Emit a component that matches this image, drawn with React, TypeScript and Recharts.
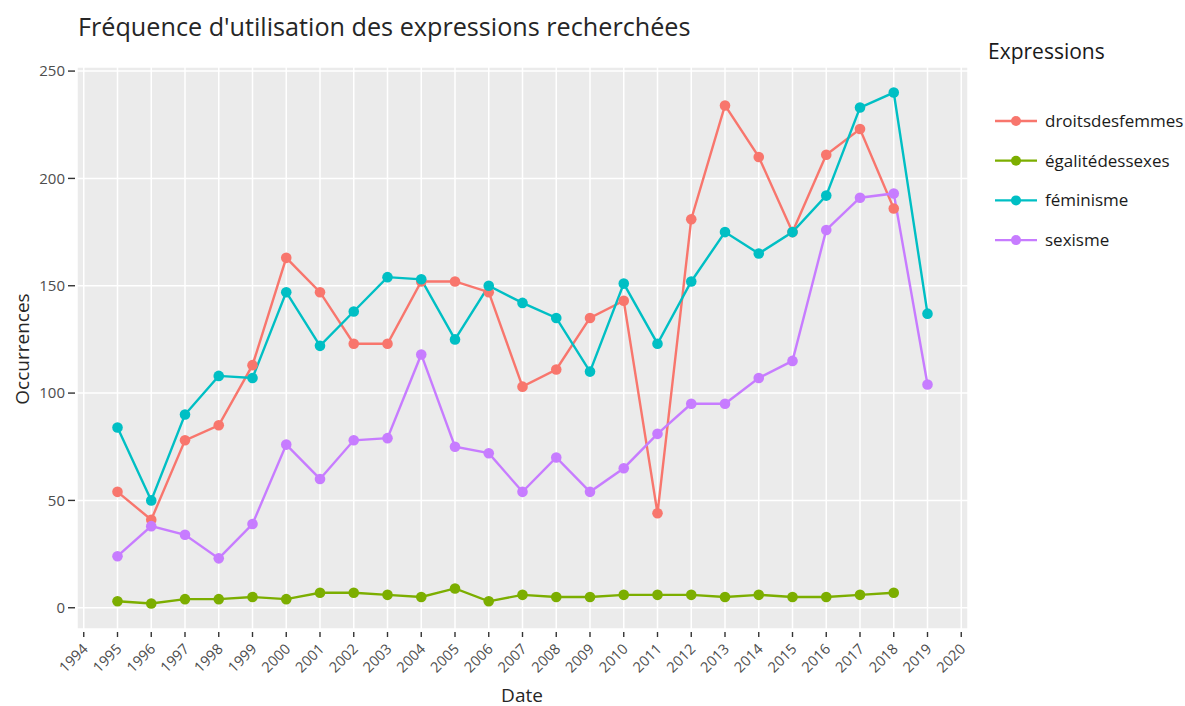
import React from "react";
import { LineChart, Line, XAxis, YAxis, CartesianGrid } from "recharts";

const years = [1995, 1996, 1997, 1998, 1999, 2000, 2001, 2002, 2003, 2004, 2005, 2006, 2007, 2008, 2009, 2010, 2011, 2012, 2013, 2014, 2015, 2016, 2017, 2018, 2019];
const droitsdesfemmes = [54, 41, 78, 85, 113, 163, 147, 123, 123, 152, 152, 147, 103, 111, 135, 143, 44, 181, 234, 210, 175, 211, 223, 186, null];
const egalitedessexes = [3, 2, 4, 4, 5, 4, 7, 7, 6, 5, 9, 3, 6, 5, 5, 6, 6, 6, 5, 6, 5, 5, 6, 7, null];
const feminisme = [84, 50, 90, 108, 107, 147, 122, 138, 154, 153, 125, 150, 142, 135, 110, 151, 123, 152, 175, 165, 175, 192, 233, 240, 137];
const sexisme = [24, 38, 34, 23, 39, 76, 60, 78, 79, 118, 75, 72, 54, 70, 54, 65, 81, 95, 95, 107, 115, 176, 191, 193, 104];

const xTicks = [1994, 1995, 1996, 1997, 1998, 1999, 2000, 2001, 2002, 2003, 2004, 2005, 2006, 2007, 2008, 2009, 2010, 2011, 2012, 2013, 2014, 2015, 2016, 2017, 2018, 2019, 2020];
const yTicks = [0, 50, 100, 150, 200, 250];

const seriesNames = ["droitsdesfemmes", "égalitédessexes", "féminisme", "sexisme"];
const seriesColors = ["#F8766D", "#7CAE00", "#00BFC4", "#C77CFF"];
const seriesValues = [droitsdesfemmes, egalitedessexes, feminisme, sexisme];

const data = years.map((yr, i) => {
  const row: any = { year: yr };
  seriesNames.forEach((n, k) => {
    row[n] = seriesValues[k][i];
  });
  return row;
});

const FONT = "'Open Sans', 'Noto Sans', sans-serif";

const XTick = (props: any) => {
  const { x, y, payload } = props;
  return (
    <g>
      <line x1={x} x2={x} y1={y + 3} y2={y + 8} stroke="#333" strokeWidth={1.4} />
      <text
        x={x + 5}
        y={y + 21}
        transform={`rotate(-45 ${x + 5} ${y + 21})`}
        textAnchor="end"
        fontSize={14.5}
        fontFamily={FONT}
        fill="#4D4D4D"
      >
        {payload.value}
      </text>
    </g>
  );
};

const YTick = (props: any) => {
  const { x, y, payload } = props;
  return (
    <g>
      <line x1={x - 9} x2={x - 2} y1={y} y2={y} stroke="#333" strokeWidth={1.4} />
      <text x={x - 12} y={y} dy="0.36em" textAnchor="end" fontSize={15} fontFamily={FONT} fill="#4D4D4D">
        {payload.value}
      </text>
    </g>
  );
};

const LegendBlock = () => (
  <div style={{ position: "absolute", left: 988, top: 38, fontFamily: FONT, color: "#1a1a1a" }}>
    <div style={{ fontSize: 21, lineHeight: "26px", whiteSpace: "nowrap" }}>Expressions</div>
    <svg width={197} height={170} style={{ display: "block", marginTop: 46 }}>
      {seriesNames.map((n, i) => {
        const cy = 11 + i * 39.7;
        return (
          <g key={n}>
            <line x1={7} x2={49} y1={cy} y2={cy} stroke={seriesColors[i]} strokeWidth={2.3} />
            <circle cx={28} cy={cy} r={5} fill={seriesColors[i]} />
            <text x={57} y={cy} dy="0.35em" fontSize={17} fontFamily={FONT} fill="#1a1a1a">
              {n}
            </text>
          </g>
        );
      })}
    </svg>
  </div>
);

export default function App() {
  return (
    <div style={{ position: "absolute", left: 0, top: 0, width: 1185, height: 706, background: "#fff", fontFamily: FONT, overflow: "hidden" }}>
      <div style={{ position: "absolute", left: 78, top: 10, fontSize: 25.2, lineHeight: "32px", color: "#262626", whiteSpace: "nowrap" }}>
        Fréquence d'utilisation des expressions recherchées
      </div>
      <div
        style={{
          position: "absolute",
          left: 22,
          top: 349,
          transform: "translate(-50%, -50%) rotate(-90deg)",
          fontSize: 19,
          lineHeight: "22px",
          color: "#262626",
          whiteSpace: "nowrap",
        }}
      >
        Occurrences
      </div>
      <div
        style={{
          position: "absolute",
          left: 522,
          top: 695,
          transform: "translate(-50%, -50%)",
          fontSize: 19,
          lineHeight: "19px",
          color: "#262626",
          whiteSpace: "nowrap",
        }}
      >
        Date
      </div>
      <LineChart width={1185} height={706} data={data} margin={{ top: 67, right: 217, bottom: 7, left: 27 }}>
        <CartesianGrid fill="#EBEBEB" stroke="#FFFFFF" strokeWidth={1.5} />
        <XAxis
          dataKey="year"
          type="number"
          domain={[1993.8, 2020.2]}
          ticks={xTicks}
          interval={0}
          allowDataOverflow
          axisLine={false}
          tickLine={false}
          tickSize={0}
          tickMargin={0}
          height={70}
          tick={<XTick />}
        />
        <YAxis
          type="number"
          domain={[-9.9, 251.9]}
          ticks={yTicks}
          interval={0}
          allowDataOverflow
          axisLine={false}
          tickLine={false}
          tickSize={0}
          tickMargin={0}
          width={50}
          tick={<YTick />}
        />
        {seriesNames.map((n, i) => (
          <Line
            key={n}
            type="linear"
            dataKey={n}
            stroke={seriesColors[i]}
            strokeWidth={2.4}
            dot={{ r: 5.3, fill: seriesColors[i], stroke: "none" }}
            activeDot={false}
            isAnimationActive={false}
          />
        ))}
      </LineChart>
      <LegendBlock />
    </div>
  );
}
